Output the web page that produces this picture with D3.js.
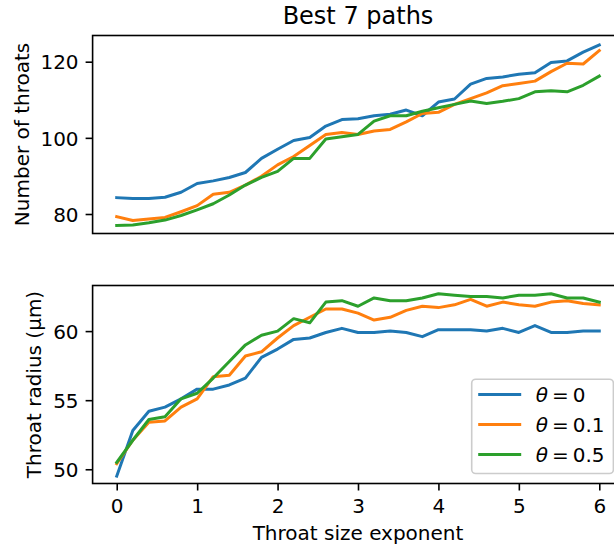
<!DOCTYPE html>
<html><head><meta charset="utf-8">
<script src="https://cdn.jsdelivr.net/npm/d3@7"></script>
<style>
html,body{margin:0;padding:0;background:#fff;overflow:hidden}
svg{display:block;font-family:"DejaVu Sans",sans-serif}
</style></head><body>
<svg id="chart" width="614" height="548"></svg>
<script>
// ---- data ----
const exponents = [0,0.2,0.4,0.6,0.8,1.0,1.2,1.4,1.6,1.8,2.0,2.2,2.4,2.6,2.8,3.0,3.2,3.4,3.6,3.8,4.0,4.2,4.4,4.6,4.8,5.0,5.2,5.4,5.6,5.8,6.0];
const thetaLabels = ["0","0.1","0.5"];
const seriesColors = ["#1f77b4","#ff7f0e","#2ca02c"];

const throatsTheta0  = [84.3,84.1,84.1,84.4,85.7,88.0,88.7,89.6,90.9,94.6,97.0,99.3,100.1,103.1,104.8,105.0,105.8,106.2,107.3,105.8,109.4,110.2,114.1,115.6,116.0,116.7,117.1,119.8,120.2,122.5,124.4];
const throatsTheta01 = [79.3,78.3,78.7,79.1,80.6,82.2,85.2,85.7,87.6,89.9,92.9,95.1,98.0,100.9,101.4,100.9,101.8,102.2,104.2,106.4,106.7,108.8,110.3,111.8,113.7,114.3,114.9,117.4,119.6,119.4,122.9];
const throatsTheta05 = [77.0,77.1,77.7,78.4,79.6,81.1,82.7,85.0,87.6,89.6,91.2,94.6,94.6,99.7,100.3,100.9,104.4,105.8,105.8,107.0,107.9,108.8,109.7,109.0,109.6,110.3,112.1,112.4,112.1,113.8,116.2];

const radiusTheta0  = [49.5,52.8,54.2,54.5,55.1,55.8,55.8,56.1,56.6,58.1,58.7,59.4,59.5,59.9,60.2,59.9,59.9,60.0,59.9,59.6,60.1,60.1,60.1,60.0,60.2,59.9,60.4,59.9,59.9,60.0,60.0];
const radiusTheta01 = [50.4,52.1,53.4,53.5,54.5,55.1,56.7,56.8,58.2,58.5,59.5,60.4,61.0,61.6,61.6,61.3,60.8,61.0,61.5,61.8,61.7,61.9,62.3,61.8,62.1,61.9,61.8,62.1,62.2,62.0,61.9];
const radiusTheta05 = [50.5,52.1,53.6,53.8,55.1,55.5,56.6,57.8,59.0,59.7,60.0,60.9,60.6,62.1,62.2,61.8,62.4,62.2,62.2,62.4,62.7,62.6,62.5,62.5,62.4,62.6,62.6,62.7,62.4,62.4,62.1];

const xTickValues = [0,1,2,3,4,5,6];
const throatTicks = [80,100,120];
const radiusTicks = [50,55,60];

const titleText = "Best 7 paths";
const xLabelText = "Throat size exponent";
const throatsLabel = "Number of throats";
const radiusLabel = "Throat radius (μm)";

// ---- layout ----
const svg = d3.select("#chart");
const axLeft = 92.6, axRight = 623.4;
const x = d3.scaleLinear().domain([-0.3, 6.3]).range([axLeft, axRight]);

const panels = [
  {id:"top", top:35.5, bottom:233.5, domain:[74.88,126.88], ticks:throatTicks,
   series:[throatsTheta0, throatsTheta01, throatsTheta05], label:throatsLabel, labelX:28.5, showX:false},
  {id:"bot", top:285.5, bottom:483.5, domain:[48.97,63.30], ticks:radiusTicks,
   series:[radiusTheta0, radiusTheta01, radiusTheta05], label:radiusLabel, labelX:41.3, showX:true}
];

panels.forEach(p => {
  const y = d3.scaleLinear().domain(p.domain).range([p.bottom, p.top]);
  const g = svg.append("g");

  g.append("clipPath").attr("id","clip-"+p.id)
    .append("rect").attr("x",axLeft).attr("y",p.top)
    .attr("width",axRight-axLeft).attr("height",p.bottom-p.top);

  const line = d3.line().x((d,i)=>x(exponents[i])).y(d=>y(d));
  const lg = g.append("g").attr("clip-path","url(#clip-"+p.id+")");
  p.series.forEach((s,k) => {
    lg.append("path").datum(s).attr("d",line)
      .attr("fill","none").attr("stroke",seriesColors[k])
      .attr("stroke-width",3).attr("stroke-linejoin","round").attr("stroke-linecap","square");
  });

  // y axis
  const ya = g.append("g").attr("transform",`translate(${axLeft},0)`)
    .call(d3.axisLeft(y).tickValues(p.ticks).tickSize(7).tickPadding(7).tickSizeOuter(0));
  ya.select(".domain").remove();
  ya.selectAll(".tick line").attr("stroke","#000").attr("stroke-width",1.6);
  ya.selectAll(".tick text").attr("font-size",20).attr("fill","#000")
    .attr("font-family","DejaVu Sans").attr("dy","0.36em");

  if (p.showX) {
    const xa = g.append("g").attr("transform",`translate(0,${p.bottom})`)
      .call(d3.axisBottom(x).tickValues(xTickValues).tickFormat(d3.format("d"))
        .tickSize(7).tickPadding(7).tickSizeOuter(0));
    xa.select(".domain").remove();
    xa.selectAll(".tick line").attr("stroke","#000").attr("stroke-width",1.6);
    xa.selectAll(".tick text").attr("font-size",20).attr("fill","#000")
      .attr("font-family","DejaVu Sans").attr("dy","0.78em");
  }

  // frame
  g.append("rect").attr("x",axLeft).attr("y",p.top)
    .attr("width",axRight-axLeft).attr("height",p.bottom-p.top)
    .attr("fill","none").attr("stroke","#000").attr("stroke-width",1.6);

  // y label
  g.append("text").attr("transform",`translate(${p.labelX},${(p.top+p.bottom)/2}) rotate(-90)`)
    .attr("text-anchor","middle").attr("font-size",20).attr("fill","#000").text(p.label);

  // legend in bottom panel
  if (p.id === "bot") {
    const lw = 141.7, lh = 94.3;
    const lx = axRight - 10 - lw, ly = p.bottom - 10 - lh;
    const leg = g.append("g");
    leg.append("rect").attr("x",lx).attr("y",ly).attr("width",lw).attr("height",lh)
      .attr("rx",4).attr("fill","#fff").attr("fill-opacity",0.8)
      .attr("stroke","#cccccc").attr("stroke-width",1.6);
    thetaLabels.forEach((lab,k) => {
      const cy = ly + 15.3 + k*30;
      leg.append("line").attr("x1",lx+8).attr("x2",lx+48).attr("y1",cy).attr("y2",cy)
        .attr("stroke",seriesColors[k]).attr("stroke-width",3).attr("stroke-linecap","square");
      const t = leg.append("text").attr("x",lx+64).attr("y",cy+7).attr("font-size",20).attr("fill","#000");
      t.append("tspan").attr("font-style","italic").text("θ");
      t.append("tspan").attr("dx",4).text("=");
      t.append("tspan").attr("dx",4).text(lab);
    });
  }
});

// title and x label
svg.append("text").attr("x",(axLeft+axRight)/2).attr("y",24).attr("text-anchor","middle")
  .attr("font-size",24).attr("fill","#000").text(titleText);
svg.append("text").attr("x",(axLeft+axRight)/2).attr("y",540).attr("text-anchor","middle")
  .attr("font-size",20).attr("fill","#000").text(xLabelText);
</script>
</body></html>
